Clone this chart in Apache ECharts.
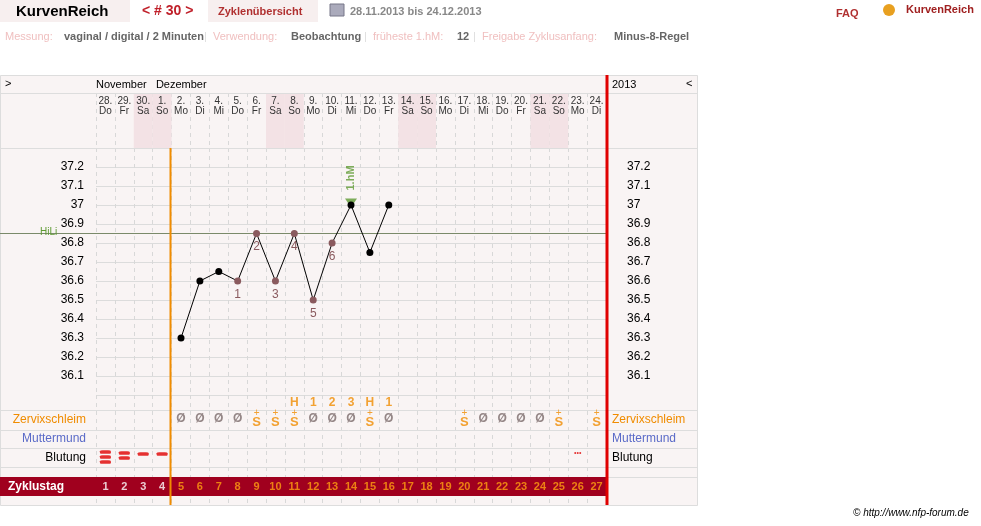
<!DOCTYPE html>
<html><head><meta charset="utf-8">
<script src="https://cdn.jsdelivr.net/npm/echarts@6/dist/echarts.min.js"></script>
<style>html,body{margin:0;padding:0;background:#fff}#c{width:981px;height:526px}</style>
</head><body><div id="c"></div>
<script>
var dom = document.getElementById('c');
var chart = echarts.init(dom);

var dates = ['28.','29.','30.','1.','2.','3.','4.','5.','6.','7.','8.','9.','10.','11.','12.','13.','14.','15.','16.','17.','18.','19.','20.','21.','22.','23.','24.'];
var weekdays = ['Do','Fr','Sa','So','Mo','Di','Mi','Do','Fr','Sa','So','Mo','Di','Mi','Do','Fr','Sa','So','Mo','Di','Mi','Do','Fr','Sa','So','Mo','Di'];
var temps = [null,null,null,null,36.3,36.6,36.65,36.6,36.85,36.6,36.85,36.5,36.8,37.0,36.75,37.0,null,null,null,null,null,null,null,null,null,null,null];
var tempMarks = ['','','','','','','','1','2','3','4','5','6','','','','','','','','','','','','','',''];
var hRow = ['','','','','','','','','','','H','1','2','3','H','1','','','','','','','','','','',''];
var zervix = ['','','','','Ø','Ø','Ø','Ø','S+','S+','S+','Ø','Ø','Ø','S+','Ø','','','','S+','Ø','Ø','Ø','Ø','S+','','S+'];
var blutung = [3,2,1,1,0,0,0,0,0,0,0,0,0,0,0,0,0,0,0,0,0,0,0,0,0,0,0];
var spotting = 25; // index of '•••'
var cycleDays = [];
for (var i = 0; i < 27; i++) cycleDays.push(String(i + 1));
var hiLi = 36.85;
var firstHighIdx = 13;

var cats = dates.map(function (d, i) { return d + '\n' + weekdays[i]; });
var weekend = weekdays.map(function (w) { return (w === 'Sa' || w === 'So') ? 1 : 0; });

var L = 96, W = 510;
var brown = '#8a5a5e', orange = '#f08c00', green = '#5e9a32';

function rowPoints(arr, y) {
    return arr.map(function (v, i) { return v ? [i, y, v] : null; }).filter(Boolean);
}

// bleeding bars
var bleedPts = [];
blutung.forEach(function (n, i) {
    var ys = n === 3 ? [57, 62, 67] : n === 2 ? [58, 63] : n === 1 ? [59] : [];
    ys.forEach(function (y) { bleedPts.push([i, y]); });
});

var txt = function (x, y, t, style) {
    return { type: 'text', left: x, top: y, z: 50, style: Object.assign({ text: t, fontFamily: 'Liberation Sans, Arial', fontSize: 11, fill: '#000' }, style || {}) };
};
var hline = function (y, x1, x2, c) {
    return { type: 'line', z: 1, shape: { x1: x1, y1: y, x2: x2, y2: y }, style: { stroke: c || '#ddd', lineWidth: 1 } };
};

var graphics = [
    { type: 'rect', shape: { x: 0, y: 0, width: 130, height: 22 }, style: { fill: '#f7efef' }, z: 0 },
    { type: 'rect', shape: { x: 208, y: 0, width: 110, height: 22 }, style: { fill: '#f7efef' }, z: 0 },
    txt(16, 4, 'KurvenReich', { fontSize: 15, fontWeight: 'bold' }),
    txt(142, 4, '< # 30 >', { fontSize: 14, fontWeight: 'bold', fill: '#c0202a' }),
    txt(218, 6, 'Zyklenübersicht', { fontWeight: 'bold', fill: '#b03030' }),
    { type: 'rect', shape: { x: 330, y: 4, width: 14, height: 12 }, style: { fill: '#aab', stroke: '#778' }, z: 5 },
    txt(350, 6, '28.11.2013 bis 24.12.2013', { fontWeight: 'bold', fill: '#888' }),
    txt(836, 8, 'FAQ', { fontWeight: 'bold', fill: '#b03030' }),
    { type: 'circle', shape: { cx: 889, cy: 10, r: 6 }, style: { fill: '#e8a020' }, z: 5 },
    txt(906, 4, 'KurvenReich', { fontWeight: 'bold', fill: '#a02020' }),
    txt(5, 31, 'Messung:', { fill: '#f0c0c0' }),
    txt(64, 31, 'vaginal / digital / 2 Minuten', { fill: '#666', fontWeight: 'bold' }),
    txt(204, 31, '|', { fill: '#ddd' }),
    txt(213, 31, 'Verwendung:', { fill: '#f0c0c0' }),
    txt(291, 31, 'Beobachtung', { fill: '#666', fontWeight: 'bold' }),
    txt(364, 31, '|', { fill: '#ddd' }),
    txt(373, 31, 'früheste 1.hM:', { fill: '#f0c0c0' }),
    txt(457, 31, '12', { fill: '#666', fontWeight: 'bold' }),
    txt(473, 31, '|', { fill: '#ddd' }),
    txt(482, 31, 'Freigabe Zyklusanfang:', { fill: '#f0c0c0' }),
    txt(614, 31, 'Minus-8-Regel', { fill: '#666', fontWeight: 'bold' }),
    { type: 'rect', shape: { x: 0.5, y: 75.5, width: 697, height: 430 }, style: { fill: '#f9f4f4', stroke: '#ddd' }, z: -10 },
    hline(93.5, 0, 697), hline(148.5, 0, 697),
    hline(410.5, 0, 697), hline(430.5, 0, 697), hline(448.5, 0, 697), hline(467.5, 0, 697), hline(477.5, 0, 697),
    txt(5, 78, '>'), txt(96, 79, 'November   Dezember'),
    txt(612, 79, '2013'), txt(686, 78, '<'),
    txt(40, 227, 'HiLi', { fill: green, fontSize: 10 }),
    hline(233.5, 0, L, '#7a8a6a'),
    { type: 'text', right: 981 - 86, top: 414, z: 50, style: { text: 'Zervixschleim', fontSize: 12, fill: orange, textAlign: 'right', fontFamily: 'Liberation Sans' } },
    { type: 'text', right: 981 - 86, top: 433, z: 50, style: { text: 'Muttermund', fontSize: 12, fill: '#5a6ac8', textAlign: 'right', fontFamily: 'Liberation Sans' } },
    { type: 'text', right: 981 - 86, top: 452, z: 50, style: { text: 'Blutung', fontSize: 12, fill: '#000', textAlign: 'right', fontFamily: 'Liberation Sans' } },
    txt(612, 414, 'Zervixschleim', { fontSize: 12, fill: orange }),
    txt(612, 433, 'Muttermund', { fontSize: 12, fill: '#5a6ac8' }),
    txt(612, 452, 'Blutung', { fontSize: 12 }),
    { type: 'rect', shape: { x: 0, y: 477, width: 606, height: 19 }, style: { fill: '#a0001e' }, z: 2 },
    txt(8, 481, 'Zyklustag', { fontSize: 12, fill: '#fff', fontWeight: 'bold' }),
    { type: 'line', shape: { x1: 170.5, y1: 148, x2: 170.5, y2: 505 }, style: { stroke: orange, lineWidth: 2 }, z: 60 },
    { type: 'line', shape: { x1: 607, y1: 75, x2: 607, y2: 505 }, style: { stroke: '#e00000', lineWidth: 3 }, z: 60 },
    txt(853, 508, '© http://www.nfp-forum.de', { fontStyle: 'italic', fontSize: 10, fill: '#000' })
];

var xCat = function (gi, extra) {
    return Object.assign({
        type: 'category', gridIndex: gi, data: cats, boundaryGap: true,
        axisLine: { show: false }, axisTick: { show: false }, axisLabel: { show: false },
        splitLine: { show: true, interval: 0, lineStyle: { color: '#d8d8d8', type: [4, 4] } }
    }, extra || {});
};

var tempPoints = temps.map(function (v, i) {
    if (v === null) return null;
    var marked = tempMarks[i] !== '';
    return {
        value: v,
        itemStyle: { color: marked ? brown : '#000' },
        label: marked ? { show: true, position: 'bottom', distance: 4, formatter: tempMarks[i], color: brown, fontSize: 12 } : { show: false }
    };
});

var cyclePts = cycleDays.map(function (d, i) {
    return { value: [i, 92], name: d, label: { color: i < 4 ? '#fff' : '#ffa010' } };
});

option = {
    animation: false,
    textStyle: { fontFamily: 'Liberation Sans, Arial' },
    graphic: graphics,
    grid: [
        { left: L, width: W, top: 148, height: 247 },
        { left: L, width: W, top: 93, height: 55 },
        { left: L, width: W, top: 395, height: 110 }
    ],
    xAxis: [
        xCat(0),
        xCat(1, { position: 'top', axisLabel: { show: true, inside: true, margin: 3, interval: 0, fontSize: 10, color: '#333', lineHeight: 10, verticalAlign: 'top' } }),
        xCat(2)
    ],
    yAxis: [
        { type: 'value', gridIndex: 0, min: 36.0, max: 37.3, interval: 0.1,
          axisLine: { show: false }, axisTick: { show: false },
          splitLine: { lineStyle: { color: '#dcdcdc' } },
          axisLabel: { margin: 12, fontSize: 12, color: '#000',
              formatter: function (v) { return (v < 36.05 || v > 37.25) ? '' : String(parseFloat(v.toFixed(1))); } } },
        { type: 'value', gridIndex: 0, position: 'right', min: 36.0, max: 37.3, interval: 0.1,
          axisLine: { show: false }, axisTick: { show: false }, splitLine: { show: false },
          axisLabel: { margin: 21, fontSize: 12, color: '#000',
              formatter: function (v) { return (v < 36.05 || v > 37.25) ? '' : String(parseFloat(v.toFixed(1))); } } },
        { type: 'value', gridIndex: 1, min: 0, max: 1, show: false },
        { type: 'value', gridIndex: 2, min: 0, max: 110, inverse: true, show: false }
    ],
    series: [
        { type: 'bar', xAxisIndex: 1, yAxisIndex: 2, data: weekend, barWidth: '100%', itemStyle: { color: '#f3e2e5' }, z: 0, silent: true },
        { type: 'line', xAxisIndex: 0, yAxisIndex: 0, data: tempPoints, connectNulls: false,
          symbol: 'circle', symbolSize: 7, lineStyle: { color: '#000', width: 1 }, z: 5,
          markLine: { silent: true, symbol: 'none', label: { show: false },
              lineStyle: { color: '#7a8a6a', type: 'solid', width: 1 }, data: [{ yAxis: hiLi }] } },
        { type: 'scatter', xAxisIndex: 0, yAxisIndex: 0, data: [[firstHighIdx, temps[firstHighIdx]]],
          symbol: 'triangle', symbolRotate: 180, symbolSize: [12, 9], symbolOffset: [0, -2],
          itemStyle: { color: green }, z: 4,
          label: { show: true, formatter: '1.hM', rotate: 90, position: 'top', distance: 8, align: 'left', verticalAlign: 'middle', color: green, fontSize: 11, fontWeight: 'bold' } },
        { type: 'scatter', xAxisIndex: 2, yAxisIndex: 3, symbolSize: 0, z: 10,
          data: rowPoints(hRow, 8),
          label: { show: true, position: 'inside', formatter: function (p) { return p.data[2]; }, color: orange, fontSize: 12, fontWeight: 'bold' } },
        { type: 'scatter', xAxisIndex: 2, yAxisIndex: 3, symbolSize: 0, z: 10,
          data: rowPoints(zervix, 24),
          label: { show: true, position: 'inside',
              formatter: function (p) { return p.data[2] === 'S+' ? '{p|+}\n{s|S}' : '{o|Ø}'; },
              rich: { p: { color: orange, fontSize: 10, lineHeight: 7, align: 'center' },
                      s: { color: orange, fontSize: 13, lineHeight: 11, align: 'center', fontWeight: 'bold' },
                      o: { color: '#7a6a6a', fontSize: 12, fontWeight: 'bold' } } } },
        { type: 'scatter', xAxisIndex: 2, yAxisIndex: 3, symbol: 'roundRect', symbolSize: [11, 3.5], z: 10,
          itemStyle: { color: '#e00000' }, data: bleedPts },
        { type: 'scatter', xAxisIndex: 2, yAxisIndex: 3, symbolSize: 0, z: 10,
          data: [[spotting, 58]],
          label: { show: true, position: 'inside', formatter: '•••', color: '#e00000', fontSize: 7 } },
        { type: 'scatter', xAxisIndex: 2, yAxisIndex: 3, symbolSize: 0, z: 10,
          data: cyclePts,
          label: { show: true, position: 'inside', fontSize: 11, fontWeight: 'bold', formatter: '{b}' } }
    ]
};
chart.setOption(option);
</script></body></html>
